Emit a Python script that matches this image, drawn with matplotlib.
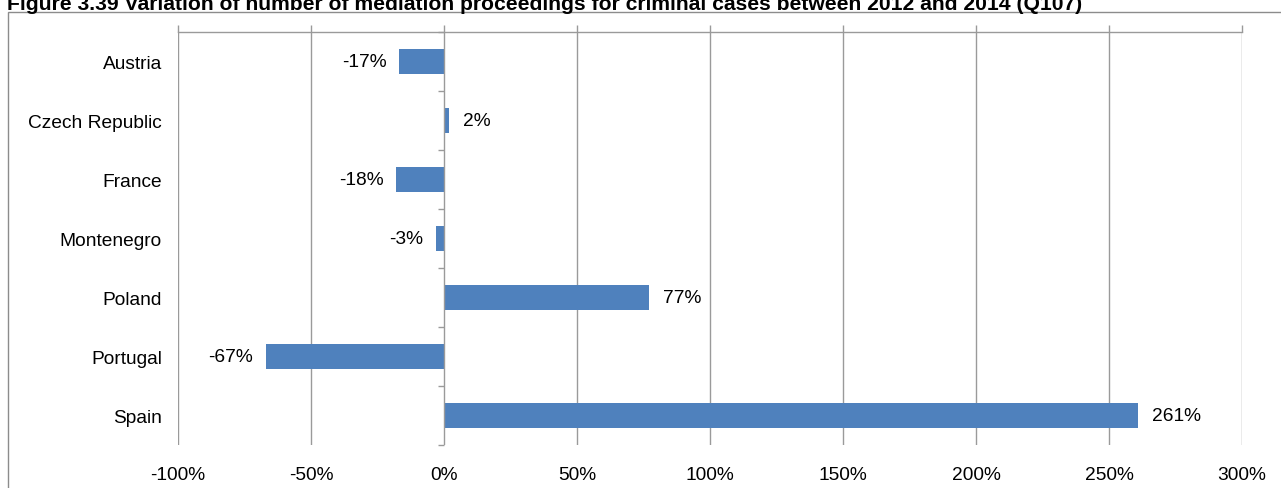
import matplotlib.pyplot as plt
from matplotlib.patches import Rectangle
import numpy as np

countries = ["Austria", "Czech Republic", "France", "Montenegro", "Poland", "Portugal", "Spain"]
variation = [-17, 2, -18, -3, 77, -67, 261]
x_ticks = [-100, -50, 0, 50, 100, 150, 200, 250, 300]
title = "Figure 3.39 Variation of number of mediation proceedings for criminal cases between 2012 and 2014 (Q107)"

plt.rcParams['font.family'] = ['Liberation Sans', 'DejaVu Sans']
bar_color = "#4F81BD"
grid_color = "#9A9A9A"
fs = 13.8

fig = plt.figure(figsize=(12.81, 4.89), dpi=100)
ax = fig.add_axes([178 / 1281, 1 - 446 / 489, (1242 - 178) / 1281, (446 - 33) / 489])

y = np.arange(len(countries))
ax.barh(y, variation, height=0.42, color=bar_color, zorder=3)
ax.set_ylim(len(countries) - 0.5, -0.5)
ax.set_xlim(x_ticks[0], x_ticks[-1])

# labels at bar ends
for yi, v in zip(y, variation):
    off = 10 if v >= 0 else -9
    ax.annotate(f"{v}%", (v, yi), xytext=(off, 0), textcoords="offset points",
                ha="left" if v >= 0 else "right", va="center", fontsize=fs, color="#000000")

# vertical gridlines and the top value axis
ax.set_xticks(x_ticks)
ax.set_xticklabels([f"{t}%" for t in x_ticks], fontsize=fs)
ax.tick_params(axis="x", top=True, bottom=False, labeltop=False, labelbottom=True,
               length=5, width=1, color=grid_color, pad=10)
for t in x_ticks:
    if t != 0:
        ax.axvline(t, color=grid_color, lw=1, zorder=1)

for s in ["left", "right", "bottom"]:
    ax.spines[s].set_visible(False)
ax.spines["top"].set_color(grid_color)
ax.spines["top"].set_linewidth(1)

# category axis drawn at 0 with tick marks between categories
ax.axvline(0, color=grid_color, lw=1, zorder=4)
bounds = np.arange(len(countries) + 1) - 0.5
ax.hlines(bounds, -2.2, 0, color=grid_color, lw=1, zorder=4, clip_on=False)

ax.set_yticks(y)
ax.set_yticklabels(countries, fontsize=fs)
ax.tick_params(axis="y", length=0, pad=11.5)

# chart area frame and title (cut at the top, as in the source)
fig.patches.append(Rectangle((8 / 1281, -0.1), 2, 1 - 13 / 489 + 0.1, transform=fig.transFigure,
                             fill=False, edgecolor="#8C8C8C", lw=1))
fig.text(1082 / 1281, 1 - 10.5 / 489, title, ha="right", va="baseline",
         fontsize=15.25, fontweight="bold")

fig.savefig("out.png", dpi=100)
